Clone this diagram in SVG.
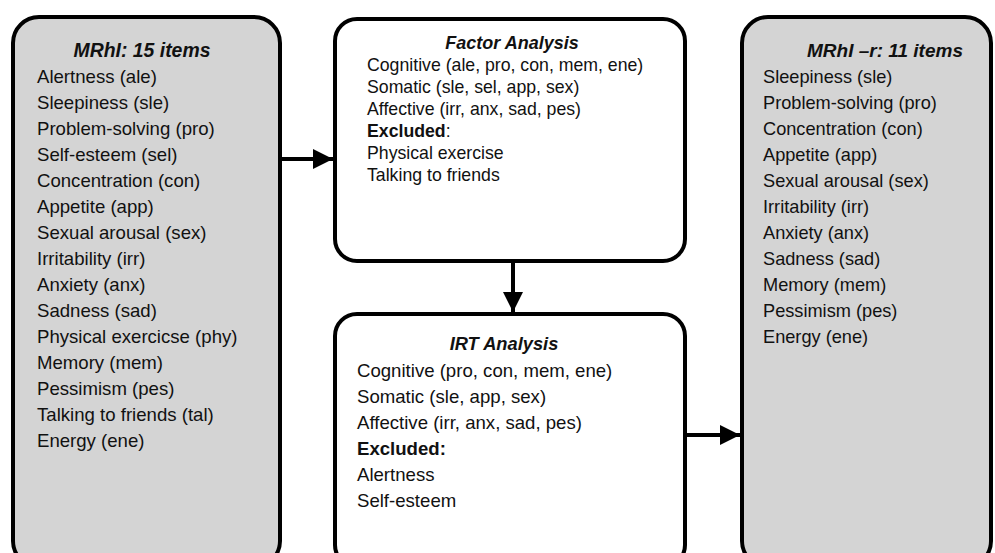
<svg xmlns="http://www.w3.org/2000/svg" width="995" height="553" viewBox="0 0 995 553">
<style>
.box{stroke:#000;stroke-width:4}
.gray{fill:#d4d4d4}
.white{fill:#fff}
text{font-family:"Liberation Sans",Arial,sans-serif;font-size:18px;fill:#111}
.t{font-weight:bold;font-style:italic;text-anchor:middle}
.b{font-weight:bold}
#mrhi15 text{font-size:18.6px}
#mrhi15 text.t{font-size:19.4px}
#mrhi11 text{font-size:18.2px}
#mrhi11 text.t{font-size:19px}
#factor text{font-size:17.7px}
#factor text.t{font-size:18px}
#irt text{font-size:18.6px}
#irt text.t{font-size:18.3px}
.conn{stroke:#000;stroke-width:4;fill:none}
</style>
<defs>
<marker id="ah" markerUnits="userSpaceOnUse" markerWidth="22" markerHeight="20" refX="20" refY="10" orient="auto">
<path d="M0,0 L20,10 L0,20 Z" fill="#000"/>
</marker>
</defs>
<rect width="995" height="553" fill="#fff"/>
<g id="mrhi15">
<rect class="box gray" x="13" y="17" width="267" height="550" rx="26"/>
<text class="t" x="142" y="57">MRhI: 15 items</text>
<text x="37" y="83">Alertness (ale)</text>
<text x="37" y="109">Sleepiness (sle)</text>
<text x="37" y="135">Problem-solving (pro)</text>
<text x="37" y="161">Self-esteem (sel)</text>
<text x="37" y="187">Concentration (con)</text>
<text x="37" y="213">Appetite (app)</text>
<text x="37" y="239">Sexual arousal (sex)</text>
<text x="37" y="265">Irritability (irr)</text>
<text x="37" y="291">Anxiety (anx)</text>
<text x="37" y="317">Sadness (sad)</text>
<text x="37" y="343">Physical exercicse (phy)</text>
<text x="37" y="369">Memory (mem)</text>
<text x="37" y="395">Pessimism (pes)</text>
<text x="37" y="421">Talking to friends (tal)</text>
<text x="37" y="447">Energy (ene)</text>
</g>
<g id="factor">
<rect class="box white" x="335" y="19" width="350" height="242" rx="22"/>
<text class="t" x="512" y="49">Factor Analysis</text>
<text x="367" y="71">Cognitive (ale, pro, con, mem, ene)</text>
<text x="367" y="93">Somatic (sle, sel, app, sex)</text>
<text x="367" y="115">Affective (irr, anx, sad, pes)</text>
<text x="367" y="137"><tspan class="b">Excluded</tspan>:</text>
<text x="367" y="159">Physical exercise</text>
<text x="367" y="181">Talking to friends</text>
</g>
<g id="irt">
<rect class="box white" x="335" y="314" width="350" height="253" rx="22"/>
<text class="t" x="504" y="350">IRT Analysis</text>
<text x="357" y="377">Cognitive (pro, con, mem, ene)</text>
<text x="357" y="403">Somatic (sle, app, sex)</text>
<text x="357" y="429">Affective (irr, anx, sad, pes)</text>
<text x="357" y="455" class="b">Excluded:</text>
<text x="357" y="481">Alertness</text>
<text x="357" y="507">Self-esteem</text>
</g>
<g id="mrhi11">
<rect class="box gray" x="742" y="17" width="249" height="550" rx="26"/>
<text class="t" x="885" y="57">MRhI –r: 11 items</text>
<text x="763" y="83">Sleepiness (sle)</text>
<text x="763" y="109">Problem-solving (pro)</text>
<text x="763" y="135">Concentration (con)</text>
<text x="763" y="161">Appetite (app)</text>
<text x="763" y="187">Sexual arousal (sex)</text>
<text x="763" y="213">Irritability (irr)</text>
<text x="763" y="239">Anxiety (anx)</text>
<text x="763" y="265">Sadness (sad)</text>
<text x="763" y="291">Memory (mem)</text>
<text x="763" y="317">Pessimism (pes)</text>
<text x="763" y="343">Energy (ene)</text>
</g>
<g id="connectors">
<line class="conn" x1="282" y1="159" x2="333" y2="159" marker-end="url(#ah)"/>
<line class="conn" x1="513" y1="263" x2="513" y2="312" marker-end="url(#ah)"/>
<line class="conn" x1="687" y1="435" x2="740" y2="435" marker-end="url(#ah)"/>
</g>
</svg>
